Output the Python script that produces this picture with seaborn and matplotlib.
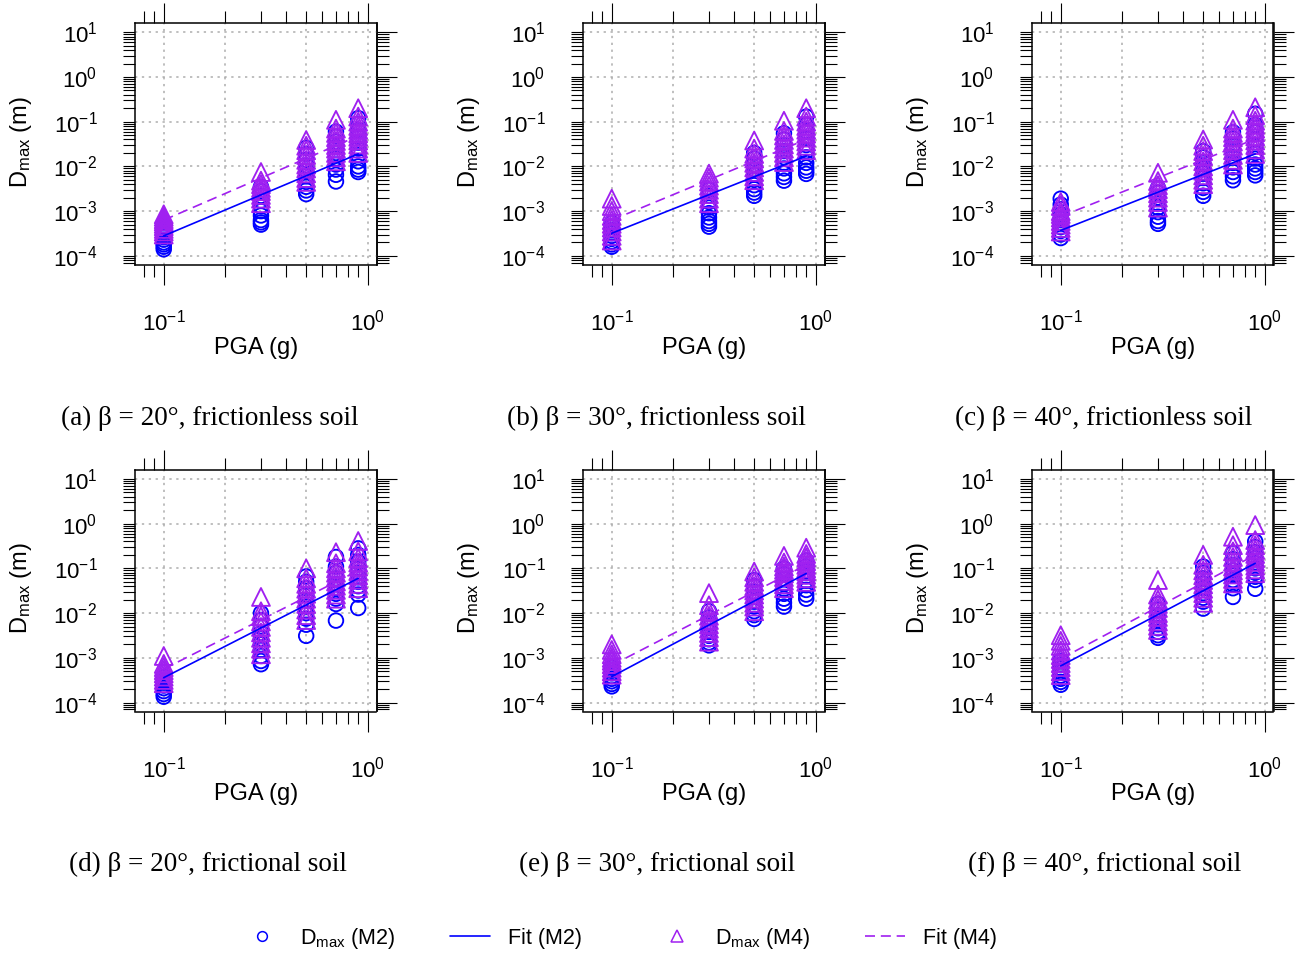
import numpy as np
import pandas as pd
import matplotlib
matplotlib.use("Agg")
import matplotlib.pyplot as plt
import seaborn as sns
from matplotlib.lines import Line2D
from matplotlib.ticker import LogLocator, NullFormatter, FixedLocator, FuncFormatter

# ---------------- data ----------------
pga_levels = [0.1, 0.3, 0.5, 0.7, 0.9]
fit_pga = [0.1, 0.9]
panel_ids = ["a", "b", "c", "d", "e", "f"]
captions = [
    "(a) β = 20°, frictionless soil",
    "(b) β = 30°, frictionless soil",
    "(c) β = 40°, frictionless soil",
    "(d) β = 20°, frictional soil",
    "(e) β = 30°, frictional soil",
    "(f) β = 40°, frictional soil",
]

# D_max (m) for model M2 (circles), one list per PGA level
m2_a = [[1.4e-4, 1.6e-4, 1.8e-4, 2.0e-4, 2.3e-4, 2.6e-4, 3.0e-4, 3.4e-4, 4.0e-4, 4.6e-4],
        [5.0e-4, 5.6e-4, 6.3e-4, 8.0e-4, 1.0e-3, 1.3e-3, 1.7e-3, 2.2e-3, 2.8e-3, 3.5e-3],
        [2.4e-3, 2.9e-3, 3.5e-3, 4.5e-3, 6.0e-3, 8.0e-3, 1.05e-2, 1.4e-2, 1.9e-2, 2.6e-2],
        [4.6e-3, 6.5e-3, 8.5e-3, 1.1e-2, 1.5e-2, 2.0e-2, 2.7e-2, 3.6e-2, 4.7e-2, 6.0e-2],
        [7.5e-3, 8.5e-3, 1.0e-2, 1.3e-2, 1.8e-2, 2.5e-2, 3.4e-2, 4.6e-2, 6.5e-2, 9.0e-2, 1.2e-1]]
m2_b = [[1.6e-4, 1.8e-4, 2.1e-4, 2.4e-4, 2.8e-4, 3.2e-4, 3.8e-4, 4.5e-4, 5.5e-4],
        [4.5e-4, 5.2e-4, 6.0e-4, 7.2e-4, 9.0e-4, 1.2e-3, 1.6e-3, 2.2e-3, 3.0e-3],
        [2.2e-3, 2.6e-3, 3.1e-3, 3.8e-3, 5.0e-3, 6.5e-3, 8.5e-3, 1.1e-2, 1.5e-2, 2.0e-2],
        [4.8e-3, 5.8e-3, 7.0e-3, 9.0e-3, 1.2e-2, 1.6e-2, 2.2e-2, 3.0e-2, 4.0e-2, 5.5e-2],
        [6.8e-3, 8.0e-3, 9.5e-3, 1.2e-2, 1.6e-2, 2.2e-2, 3.0e-2, 4.2e-2, 6.0e-2, 8.5e-2, 1.3e-1]]
m2_c = [[2.5e-4, 3.0e-4, 3.6e-4, 4.4e-4, 5.4e-4, 6.8e-4, 8.5e-4, 1.1e-3, 1.4e-3, 1.9e-3],
        [5.2e-4, 6.0e-4, 7.5e-4, 9.5e-4, 1.2e-3, 1.5e-3, 2.0e-3, 2.6e-3, 3.3e-3],
        [2.2e-3, 2.7e-3, 3.3e-3, 4.2e-3, 5.5e-3, 7.0e-3, 9.0e-3, 1.2e-2, 1.6e-2, 2.2e-2],
        [4.9e-3, 6.0e-3, 7.5e-3, 9.5e-3, 1.2e-2, 1.6e-2, 2.2e-2, 3.0e-2, 4.2e-2, 5.8e-2],
        [6.3e-3, 7.5e-3, 9.0e-3, 1.1e-2, 1.5e-2, 2.0e-2, 2.8e-2, 4.0e-2, 5.8e-2, 8.5e-2, 1.5e-1]]
m2_d = [[1.35e-4, 1.55e-4, 1.8e-4, 2.1e-4, 2.4e-4, 2.8e-4, 3.2e-4, 3.7e-4],
        [7.2e-4, 8.5e-4, 1.1e-3, 1.5e-3, 2.0e-3, 2.7e-3, 3.6e-3, 5.0e-3, 7.0e-3, 1.0e-2],
        [3.1e-3, 5.5e-3, 7.5e-3, 1.0e-2, 1.4e-2, 1.9e-2, 2.6e-2, 3.6e-2, 5.0e-2, 6.6e-2],
        [6.8e-3, 1.6e-2, 2.1e-2, 2.7e-2, 3.5e-2, 4.5e-2, 6.0e-2, 8.0e-2, 1.1e-1, 1.8e-1],
        [1.3e-2, 2.6e-2, 3.2e-2, 4.0e-2, 5.0e-2, 6.3e-2, 8.0e-2, 1.0e-1, 1.4e-1, 2.0e-1, 2.8e-1]]
m2_e = [[2.3e-4, 2.6e-4, 3.0e-4, 3.4e-4, 3.9e-4, 4.5e-4, 5.2e-4, 6.0e-4],
        [1.9e-3, 2.2e-3, 2.6e-3, 3.1e-3, 3.8e-3, 4.7e-3, 6.0e-3, 8.0e-3, 1.1e-2],
        [7.4e-3, 9.0e-3, 1.1e-2, 1.4e-2, 1.8e-2, 2.3e-2, 3.0e-2, 4.0e-2, 5.5e-2],
        [1.4e-2, 1.7e-2, 2.1e-2, 2.7e-2, 3.5e-2, 4.5e-2, 5.8e-2, 7.5e-2, 1.0e-1],
        [2.1e-2, 2.6e-2, 3.3e-2, 4.2e-2, 5.3e-2, 6.7e-2, 8.5e-2, 1.1e-1, 1.5e-1]]
m2_f = [[2.5e-4, 2.9e-4, 3.4e-4, 4.0e-4, 4.8e-4, 5.8e-4, 7.0e-4, 8.5e-4],
        [2.8e-3, 3.2e-3, 3.8e-3, 4.6e-3, 5.6e-3, 7.0e-3, 9.0e-3, 1.2e-2, 1.6e-2],
        [1.26e-2, 1.8e-2, 2.2e-2, 2.8e-2, 3.6e-2, 4.6e-2, 6.0e-2, 8.0e-2, 1.1e-1],
        [2.3e-2, 3.6e-2, 4.4e-2, 5.5e-2, 7.0e-2, 9.0e-2, 1.2e-1, 1.6e-1, 2.2e-1],
        [3.5e-2, 5.5e-2, 6.5e-2, 8.0e-2, 1.0e-1, 1.3e-1, 1.7e-1, 2.3e-1, 3.0e-1, 4.0e-1]]

# D_max (m) for model M4 (triangles), one list per PGA level
m4_a = [[3.0e-4, 3.5e-4, 4.0e-4, 4.6e-4, 5.2e-4, 5.9e-4, 6.6e-4, 7.5e-4, 8.5e-4],
        [1.5e-3, 1.9e-3, 2.3e-3, 2.8e-3, 3.3e-3, 4.0e-3, 4.8e-3, 7.5e-3],
        [4.5e-3, 5.5e-3, 7.0e-3, 9.0e-3, 1.1e-2, 1.4e-2, 1.8e-2, 2.3e-2, 2.9e-2, 3.9e-2],
        [1.3e-2, 1.6e-2, 2.0e-2, 2.5e-2, 3.0e-2, 3.7e-2, 4.5e-2, 5.6e-2, 7.0e-2, 1.1e-1],
        [2.0e-2, 2.5e-2, 3.1e-2, 3.8e-2, 4.6e-2, 5.5e-2, 6.6e-2, 8.0e-2, 1.0e-1, 1.3e-1, 2.0e-1]]
m4_b = [[2.2e-4, 2.8e-4, 3.5e-4, 4.3e-4, 5.2e-4, 6.3e-4, 7.8e-4, 1.0e-3, 1.3e-3, 1.9e-3],
        [1.5e-3, 1.9e-3, 2.4e-3, 3.0e-3, 3.7e-3, 4.6e-3, 5.6e-3, 6.9e-3],
        [4.9e-3, 6.0e-3, 7.5e-3, 9.5e-3, 1.2e-2, 1.5e-2, 1.9e-2, 2.5e-2, 3.8e-2],
        [1.25e-2, 1.6e-2, 2.0e-2, 2.5e-2, 3.1e-2, 3.9e-2, 4.9e-2, 6.2e-2, 1.05e-1],
        [2.3e-2, 2.9e-2, 3.6e-2, 4.4e-2, 5.4e-2, 6.6e-2, 8.0e-2, 1.0e-1, 1.3e-1, 2.0e-1]]
m4_c = [[3.5e-4, 4.2e-4, 5.0e-4, 6.0e-4, 7.2e-4, 8.6e-4, 1.0e-3, 1.3e-3, 1.6e-3],
        [1.2e-3, 1.6e-3, 2.0e-3, 2.5e-3, 3.1e-3, 3.8e-3, 4.7e-3, 7.2e-3],
        [4.0e-3, 5.0e-3, 6.3e-3, 8.0e-3, 1.0e-2, 1.3e-2, 1.7e-2, 2.2e-2, 2.9e-2, 4.0e-2],
        [1.1e-2, 1.4e-2, 1.8e-2, 2.3e-2, 2.9e-2, 3.6e-2, 4.5e-2, 5.6e-2, 7.0e-2, 1.1e-1],
        [1.9e-2, 2.4e-2, 3.0e-2, 3.8e-2, 4.7e-2, 5.8e-2, 7.0e-2, 8.5e-2, 1.05e-1, 1.4e-1, 2.1e-1]]
m4_d = [[2.7e-4, 3.2e-4, 3.8e-4, 4.5e-4, 5.3e-4, 6.2e-4, 7.3e-4, 1.1e-3],
        [1.2e-3, 1.6e-3, 2.1e-3, 2.8e-3, 3.7e-3, 4.9e-3, 6.5e-3, 8.5e-3, 1.1e-2, 2.3e-2],
        [7.0e-3, 9.0e-3, 1.2e-2, 1.6e-2, 2.1e-2, 2.7e-2, 3.5e-2, 4.5e-2, 6.0e-2, 1.0e-1],
        [2.1e-2, 2.6e-2, 3.3e-2, 4.1e-2, 5.1e-2, 6.4e-2, 8.0e-2, 1.0e-1, 1.3e-1, 2.3e-1],
        [3.6e-2, 4.5e-2, 5.6e-2, 7.0e-2, 8.7e-2, 1.1e-1, 1.35e-1, 1.7e-1, 2.4e-1, 4.1e-1]]
m4_e = [[4.2e-4, 5.0e-4, 6.0e-4, 7.2e-4, 8.6e-4, 1.0e-3, 1.2e-3, 1.5e-3, 2.0e-3],
        [2.3e-3, 2.9e-3, 3.6e-3, 4.5e-3, 5.6e-3, 7.0e-3, 8.7e-3, 1.1e-2, 1.5e-2, 2.8e-2],
        [1.1e-2, 1.4e-2, 1.7e-2, 2.1e-2, 2.6e-2, 3.2e-2, 4.0e-2, 5.0e-2, 6.3e-2, 8.5e-2],
        [3.6e-2, 4.4e-2, 5.3e-2, 6.4e-2, 7.7e-2, 9.3e-2, 1.1e-1, 1.35e-1, 1.9e-1],
        [5.0e-2, 6.0e-2, 7.2e-2, 8.6e-2, 1.0e-1, 1.2e-1, 1.45e-1, 1.75e-1, 2.1e-1, 2.9e-1]]
m4_f = [[4.1e-4, 5.0e-4, 6.2e-4, 7.6e-4, 9.4e-4, 1.15e-3, 1.45e-3, 1.85e-3, 2.4e-3, 3.2e-3],
        [4.2e-3, 5.2e-3, 6.5e-3, 8.2e-3, 1.0e-2, 1.3e-2, 1.6e-2, 2.0e-2, 2.6e-2, 5.5e-2],
        [1.7e-2, 2.2e-2, 2.8e-2, 3.5e-2, 4.4e-2, 5.5e-2, 7.0e-2, 9.0e-2, 1.2e-1, 2.0e-1],
        [4.6e-2, 5.8e-2, 7.3e-2, 9.0e-2, 1.1e-1, 1.4e-1, 1.8e-1, 2.4e-1, 3.3e-1, 5.1e-1],
        [7.8e-2, 9.5e-2, 1.15e-1, 1.4e-1, 1.7e-1, 2.1e-1, 2.6e-1, 3.3e-1, 4.3e-1, 9.3e-1]]

# fitted power-law lines, values at PGA = 0.1 and 0.9
fit_m2_a = [2.8e-4, 1.9e-2]
fit_m2_b = [3.2e-4, 1.7e-2]
fit_m2_c = [3.7e-4, 1.9e-2]
fit_m2_d = [3.6e-4, 6.0e-2]
fit_m2_e = [3.8e-4, 7.7e-2]
fit_m2_f = [6.6e-4, 1.3e-1]
fit_m4_a = [6.3e-4, 4.8e-2]
fit_m4_b = [6.3e-4, 4.0e-2]
fit_m4_c = [7.6e-4, 4.1e-2]
fit_m4_d = [5.6e-4, 8.9e-2]
fit_m4_e = [6.8e-4, 1.2e-1]
fit_m4_f = [9.5e-4, 2.0e-1]

# ---------------- build long tables ----------------
m2_sets = [m2_a, m2_b, m2_c, m2_d, m2_e, m2_f]
m4_sets = [m4_a, m4_b, m4_c, m4_d, m4_e, m4_f]
fit_m2_sets = [fit_m2_a, fit_m2_b, fit_m2_c, fit_m2_d, fit_m2_e, fit_m2_f]
fit_m4_sets = [fit_m4_a, fit_m4_b, fit_m4_c, fit_m4_d, fit_m4_e, fit_m4_f]

rows = []
for pid, m2, m4 in zip(panel_ids, m2_sets, m4_sets):
    for model, groups in (("M2", m2), ("M4", m4)):
        for pga, vals in zip(pga_levels, groups):
            for v in vals:
                rows.append((pid, model, pga, v))
pts = pd.DataFrame(rows, columns=["panel", "model", "pga", "dmax"])

frows = []
for pid, f2, f4 in zip(panel_ids, fit_m2_sets, fit_m4_sets):
    for model, fv in (("M2", f2), ("M4", f4)):
        for pga, v in zip(fit_pga, fv):
            frows.append((pid, model, pga, v))
fits = pd.DataFrame(frows, columns=["panel", "model", "pga", "dmax"])

# ---------------- style ----------------
sns.set_theme(style="white")
plt.rcParams["font.family"] = ["Liberation Sans", "DejaVu Sans"]
plt.rcParams["mathtext.fontset"] = "custom"
plt.rcParams["mathtext.rm"] = "Liberation Sans"
plt.rcParams["mathtext.it"] = "Liberation Sans:italic"
plt.rcParams["mathtext.bf"] = "Liberation Sans:bold"
plt.rcParams["axes.unicode_minus"] = True
for key in ("text.color", "axes.labelcolor", "xtick.color", "ytick.color", "axes.edgecolor"):
    plt.rcParams[key] = "black"

BLUE = "#0000FF"
PURPLE = "#A020F0"
GRID = "#ADADAD"
DASH = (0, (6, 3.5))

W, H = 1298, 955
fig = plt.figure(figsize=(W / 100, H / 100), dpi=100)
fig.patch.set_facecolor("white")

lefts_px = [135, 583, 1032]
tops_px = [23.3, 470]
size_px = 241.5
cap_x_px = [210, 656, 1104, 208, 657, 1105]
cap_y_px = [418, 864]

xlim = (10 ** -1.141, 10 ** 0.044)
ylim = (10 ** -4.2, 10 ** 1.2)
grid_x = [0.1, 0.2, 0.5, 1.0]
grid_y = [1e-4, 1e-3, 1e-2, 1e-1, 1e0, 1e1]

pow_fmt = FuncFormatter(lambda v, p: r"$10^{%d}$" % int(round(np.log10(v))))

for i, pid in enumerate(panel_ids):
    r, c = divmod(i, 3)
    left = lefts_px[c] / W
    bottom = 1 - (tops_px[r] + size_px) / H
    ax = fig.add_axes([left, bottom, size_px / W, size_px / H])
    ax.set_xscale("log")
    ax.set_yscale("log")
    ax.set_facecolor("white")

    for gx in grid_x:
        ax.axvline(gx, color=GRID, lw=1.1, ls=(0, (1.5, 3)), zorder=1)
    for gy in grid_y:
        ax.axhline(gy, color=GRID, lw=1.1, ls=(0, (1.5, 3)), zorder=1)

    sub = pts[pts.panel == pid]
    sns.scatterplot(data=sub[sub.model == "M2"], x="pga", y="dmax", marker="o",
                    s=110, color=BLUE, facecolor="none", edgecolor=BLUE,
                    linewidth=1.35, ax=ax, zorder=3, legend=False)
    sns.scatterplot(data=sub[sub.model == "M4"], x="pga", y="dmax", marker="^",
                    s=165, color=PURPLE, facecolor="none", edgecolor=PURPLE,
                    linewidth=1.35, ax=ax, zorder=4, legend=False)
    fsub = fits[fits.panel == pid]
    sns.lineplot(data=fsub[fsub.model == "M2"], x="pga", y="dmax", color=BLUE,
                 lw=1.2, ax=ax, zorder=5, legend=False)
    sns.lineplot(data=fsub[fsub.model == "M4"], x="pga", y="dmax", color=PURPLE,
                 lw=1.2, ls=DASH, ax=ax, zorder=5, legend=False)

    ax.set_xlim(*xlim)
    ax.set_ylim(*ylim)

    ax.xaxis.set_major_locator(FixedLocator([0.1, 1.0]))
    ax.xaxis.set_major_formatter(pow_fmt)
    ax.xaxis.set_minor_locator(LogLocator(base=10, subs=np.arange(2, 10), numticks=20))
    ax.xaxis.set_minor_formatter(NullFormatter())
    ax.yaxis.set_major_locator(FixedLocator(grid_y))
    ax.yaxis.set_major_formatter(pow_fmt)
    ax.yaxis.set_minor_locator(LogLocator(base=10, subs=np.arange(2, 10), numticks=40))
    ax.yaxis.set_minor_formatter(NullFormatter())

    ax.tick_params(axis="x", which="both", bottom=True, top=True, direction="out",
                   color="black", width=0.8, labelsize=16, pad=18, labelcolor="black")
    ax.tick_params(axis="x", which="major", length=14.4)
    ax.tick_params(axis="x", which="minor", length=8.6)
    ax.tick_params(axis="y", which="both", left=True, right=False, direction="out",
                   color="black", width=0.8, length=8.6, labelsize=16, pad=18.5,
                   labelcolor="black")

    sec = ax.secondary_yaxis("right")
    sec.yaxis.set_major_locator(FixedLocator(grid_y))
    sec.yaxis.set_major_formatter(NullFormatter())
    sec.yaxis.set_minor_locator(LogLocator(base=10, subs=np.arange(2, 10), numticks=40))
    sec.yaxis.set_minor_formatter(NullFormatter())
    sec.tick_params(which="major", length=14.4, width=0.8, direction="out", color="black")
    sec.tick_params(which="minor", length=8.6, width=0.8, direction="out", color="black")
    sec.spines["right"].set_linewidth(1.1)
    sec.spines["right"].set_color("black")

    for sp in ax.spines.values():
        sp.set_visible(True)
        sp.set_color("black")
        sp.set_linewidth(1.1)

    ax.set_xlabel("PGA (g)", fontsize=17, color="black")
    ax.xaxis.set_label_coords(0.5, -0.343)
    ax.xaxis.label.set_verticalalignment("center")
    ax.set_ylabel(r"D$_{\mathrm{max}}$ (m)", fontsize=17, color="black")
    ax.yaxis.set_label_coords(-0.473, 0.51)
    ax.yaxis.label.set_verticalalignment("center")

    fig.text(cap_x_px[i] / W, 1 - cap_y_px[r] / H, captions[i], ha="center",
             va="center", fontsize=19.5, color="black",
             family=["Liberation Serif", "DejaVu Serif"])

# ---------------- legend ----------------
leg_fs = 15.5
leg_items = [
    (Line2D([], [], ls="none", marker="o", mfc="none", mec=BLUE, ms=7, mew=1.1),
     r"D$_{\mathrm{max}}$ (M2)", 242),
    (Line2D([], [], color=BLUE, lw=1.2), "Fit (M2)", 450),
    (Line2D([], [], ls="none", marker="^", mfc="none", mec=PURPLE, ms=8, mew=1.1),
     r"D$_{\mathrm{max}}$ (M4)", 657),
    (Line2D([], [], color=PURPLE, lw=1.2, ls=DASH), "Fit (M4)", 865),
]
for h, lab, xpx in leg_items:
    leg = fig.legend([h], [lab], loc="center left", bbox_to_anchor=(xpx / W, 1 - 938 / H),
                     frameon=False, fontsize=leg_fs, handlelength=1.86, handletextpad=0.84,
                     borderpad=0, borderaxespad=0)
    for t in leg.get_texts():
        t.set_color("black")

fig.savefig("out.png", dpi=100, facecolor="white")
